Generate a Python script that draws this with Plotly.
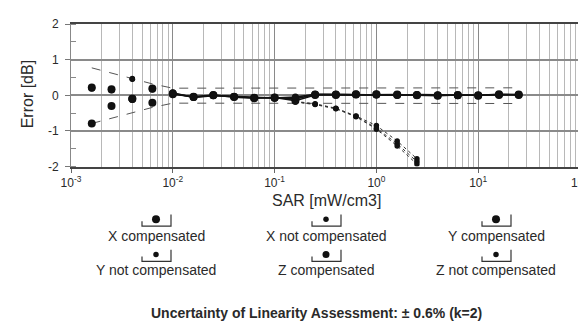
import plotly.graph_objects as go

# ---------------- data ----------------
sar = [0.0016, 0.0025, 0.004, 0.0063, 0.01, 0.016, 0.025, 0.04, 0.063, 0.1, 0.16,
       0.25, 0.4, 0.63, 1.0, 1.6, 2.5, 4.0, 6.3, 10, 16, 25]

x_comp = [0.22, 0.17, -0.10, 0.19, 0.05, -0.05, 0.00, -0.04, -0.07, -0.07, -0.10,
          0.02, 0.02, 0.03, 0.02, 0.01, 0.01, 0.00, 0.00, -0.01, 0.01, 0.02]
y_comp = [-0.79, -0.30, -0.10, -0.21, 0.03, -0.04, 0.01, -0.05, -0.08, -0.06, -0.15,
          0.01, 0.01, 0.02, 0.03, 0.02, 0.00, -0.01, 0.01, 0.00, 0.03, 0.01]
z_comp = [0.20, 0.15, -0.12, 0.17, 0.07, -0.06, -0.01, -0.03, -0.06, -0.08, -0.05,
          0.03, 0.03, 0.02, 0.01, 0.00, 0.02, 0.01, -0.01, 0.00, 0.02, 0.02]

x_notcomp = [0.22, 0.17, 0.47, 0.19, 0.05, -0.05, 0.00, -0.04, -0.07, -0.08, -0.17,
             -0.24, -0.36, -0.58, -0.85, -1.28, -1.78, None, None, None, None, None]
y_notcomp = [-0.79, -0.30, 0.45, -0.21, 0.04, -0.05, 0.00, -0.05, -0.08, -0.09, -0.18,
             -0.25, -0.37, -0.59, -0.92, -1.36, -1.86, None, None, None, None, None]
z_notcomp = [0.20, 0.15, 0.46, 0.17, 0.06, -0.06, 0.00, -0.04, -0.07, -0.09, -0.19,
             -0.26, -0.38, -0.60, -0.95, -1.42, -1.93, None, None, None, None, None]

band_upper = [0.77, 0.62, 0.47, 0.32, 0.20, 0.20, 0.20, 0.20, 0.20, 0.20, 0.20,
              0.21, 0.21, 0.21, 0.21, 0.21, 0.21, 0.21, 0.21, 0.21, 0.21, 0.21]
band_lower = [-0.79, -0.64, -0.49, -0.34, -0.22, -0.22, -0.23, -0.23, -0.23, -0.23, -0.23,
              -0.23, -0.23, -0.23, -0.23, -0.23, -0.23, -0.23, -0.23, -0.23, -0.23, -0.23]

x_tickvals = [0.001, 0.01, 0.1, 1, 10, 100]
x_ticktext = ["10<sup>-3</sup>", "10<sup>-2</sup>", "10<sup>-1</sup>",
              "10<sup>0</sup>", "10<sup>1</sup>", "10<sup>2</sup>"]
y_tickvals = [-2, -1, 0, 1, 2]
y_ticktext = ["-2", "-1", "0", "1", "2"]

legend_names = ["X compensated", "X not compensated", "Y compensated",
                "Y not compensated", "Z compensated", "Z not compensated"]
x_title = "SAR [mW/cm3]"
y_title = "Error [dB]"
bottom_title = "Uncertainty of Linearity Assessment: \u00b1 0.6% (k=2)"

# ---------------- styling ----------------
FONT = "Liberation Sans, Arial, sans-serif"
TXT = "#2a2a2a"
W, H = 586, 322
M_L, M_R, M_T, M_B = 63, 14, 16, 4
plot_h = H - M_T - M_B
plot_w = W - M_L - M_R
main_bottom_px = 162
main_dom0 = (H - M_B - main_bottom_px) / plot_h

fig = go.Figure()

# uncertainty band lines
for band in (band_upper, band_lower):
    fig.add_trace(go.Scatter(x=sar, y=band, mode="lines",
                             line=dict(color="#555", width=1, dash="dash"),
                             showlegend=False, hoverinfo="skip"))

# connecting lines
for s in (x_comp, y_comp, z_comp):
    fig.add_trace(go.Scatter(x=sar[4:], y=s[4:], mode="lines",
                             line=dict(color="#111", width=1.6),
                             showlegend=False, hoverinfo="skip"))
for s in (x_notcomp, y_notcomp, z_notcomp):
    fig.add_trace(go.Scatter(x=sar[10:], y=s[10:], mode="lines",
                             line=dict(color="#333", width=1, dash="dot"),
                             showlegend=False, hoverinfo="skip"))

series = [(x_comp, 8), (x_notcomp, 5.5), (y_comp, 8),
          (y_notcomp, 5.5), (z_comp, 7), (z_notcomp, 5.5)]
for (vals, size), name in zip(series, legend_names):
    fig.add_trace(go.Scatter(x=sar, y=vals, mode="markers", name=name,
                             marker=dict(color="#111", size=size, symbol="circle"),
                             showlegend=False))

# ---------------- custom legend (pixel-like helper axes) ----------------
col_x = [148, 318, 488]
row_marker_y = [216, 252]
row_text_y = [233, 268]
shapes = []
for i, ((vals, size), name) in enumerate(zip(series, legend_names)):
    cx = col_x[i % 3]
    r = i // 3
    my = row_marker_y[r]
    fig.add_trace(go.Scatter(x=[cx], y=[my], mode="markers", xaxis="x2", yaxis="y2",
                             marker=dict(color="#111", size=size),
                             showlegend=False, hoverinfo="skip"))
    base = my + 7
    shapes.append(dict(type="path", xref="x2", yref="y2",
                       path=f"M {cx-14},{my+2} L {cx-14},{base} L {cx+15},{base} L {cx+15},{my-5}",
                       line=dict(color="#333", width=1.2)))
    fig.add_annotation(x=cx, y=row_text_y[r], xref="x2", yref="y2", text=name,
                       showarrow=False, font=dict(family=FONT, size=14, color=TXT),
                       xanchor="center", yanchor="middle")

fig.add_annotation(x=318, y=197, xref="x2", yref="y2", text=x_title, showarrow=False,
                   font=dict(family=FONT, size=16, color=TXT), xanchor="center", yanchor="middle")
fig.add_annotation(x=(19 - M_L) / plot_w, y=(H - M_B - 88) / plot_h,
                   xref="paper", yref="paper", text=y_title, showarrow=False,
                   textangle=-90, font=dict(family=FONT, size=16, color=TXT),
                   xanchor="center", yanchor="middle")
fig.add_annotation(x=308, y=312, xref="x2", yref="y2", text="<b>" + bottom_title + "</b>",
                   showarrow=False, font=dict(family=FONT, size=14, color=TXT),
                   xanchor="center", yanchor="middle")

fig.update_layout(
    width=W, height=H, margin=dict(l=M_L, r=M_R, t=M_T, b=M_B),
    paper_bgcolor="white", plot_bgcolor="white",
    font=dict(family=FONT, size=12, color=TXT),
    shapes=shapes,
    xaxis=dict(type="log", range=[-3, 2], domain=[0, 1], anchor="y",
               tickmode="array", tickvals=x_tickvals, ticktext=x_ticktext,
               tickfont=dict(size=12, color=TXT),
               showgrid=True, gridcolor="#8a8a8a", gridwidth=1.2,
               minor=dict(dtick="D1", showgrid=True, gridcolor="#b8b8b8", gridwidth=1,
                          ticks=""),
               ticks="outside", ticklen=4, tickcolor="#666",
               showline=True, linecolor="#444", linewidth=2, mirror=True,
               zeroline=False),
    yaxis=dict(range=[-2, 2], domain=[main_dom0, 1], anchor="x",
               tickmode="array", tickvals=y_tickvals, ticktext=y_ticktext,
               tickfont=dict(size=12, color=TXT), ticklabelstandoff=4,
               showgrid=True, gridcolor="#8a8a8a", gridwidth=1.5,
               ticks="outside", ticklen=5, tickcolor="#777",
               minor=dict(dtick=0.5, ticks="inside", ticklen=5, tickcolor="#888",
                          showgrid=False),
               showline=True, linecolor="#888", linewidth=1, mirror=True,
               zeroline=False),
    xaxis2=dict(range=[M_L, W - M_R], domain=[0, 1], anchor="y2", visible=False,
                fixedrange=True),
    yaxis2=dict(range=[H - M_B, H - M_B - 0.45 * plot_h], domain=[0, 0.45], anchor="x2",
                visible=False, fixedrange=True),
    showlegend=False,
)

fig.write_html("out.html")
